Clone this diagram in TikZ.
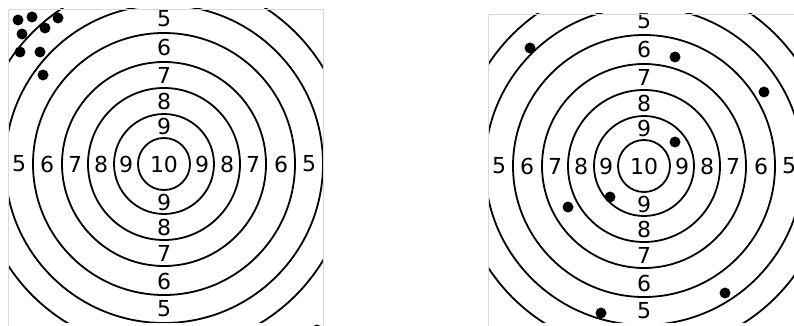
\documentclass[tikz,border=0pt]{standalone}
\usepackage{fontspec}
\newfontfamily\targetfont{DejaVu Sans}

\begin{document}
\begin{tikzpicture}[x=1pt, y=-1pt,
    ring/.style={draw=black, line width=1.8pt},
    score/.style={font=\targetfont\fontsize{22}{22}\selectfont, inner sep=0pt},
    hole/.style={fill=black},
    frame/.style={draw=black!15, line width=0.8pt}]

\fill [white] (0,0) rectangle (794,326);
\useasboundingbox (0,0) rectangle (794,326);

\coordinate (lc) at (164,164);
\coordinate (rc) at (644,166);

\foreach \c/\fl/\ft/\fr in {lc/8/9/323, rc/488/14/794} {
  \begin{scope}
    \clip (\fl,\ft) rectangle (\fr,322);
    \foreach \r in {26,50,76,102,131,159,186}
      \draw [ring] (\c) circle [radius=\r pt];
    \node [score] (\c-10) at (\c) {10};
    \foreach \n/\m in {9/38,8/63,7/89,6/117,5/145} {
      \node [score] (\c-w\n) at ([xshift=-\m pt]\c) {\n};
      \node [score] (\c-e\n) at ([xshift=\m pt]\c) {\n};
      \node [score] (\c-n\n) at ([yshift=\m pt]\c) {\n};
      \node [score] (\c-s\n) at ([yshift=-\m pt]\c) {\n};
    }
  \end{scope}
  \draw [frame] (\fl,330) -- (\fl,\ft) -- (\fr,\ft) -- (\fr,330);
}

\foreach \hx/\hy in {18/20, 32/17, 58/18, 45/28, 22/34, 20/52, 40/52, 43/75, 317/330,
    530/48, 675/57, 764/92, 675/142, 610/197, 568/207, 725/293, 601/313}
  \fill [hole] (\hx,\hy) circle [radius=5.5pt];

\end{tikzpicture}
\end{document}
